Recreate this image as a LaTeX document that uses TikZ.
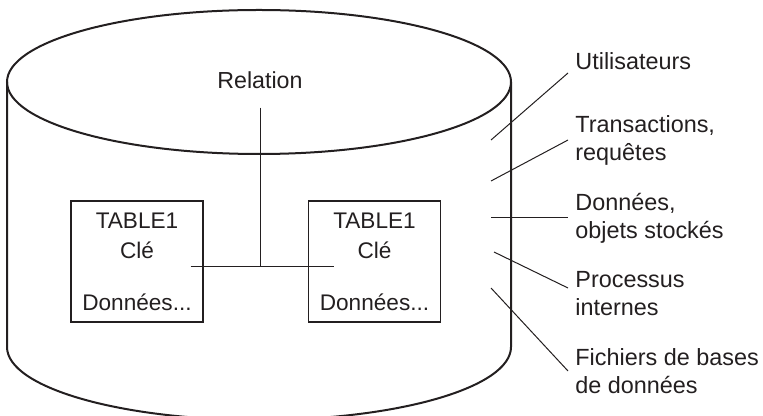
\documentclass[tikz,border=0pt]{standalone}
\usepackage{fontspec}
\setmainfont{Liberation Sans}
\definecolor{ink}{HTML}{231F20}

\begin{document}
\begin{tikzpicture}[x=0.5pt, y=-0.5pt, color=ink,
  lbl/.style={anchor=west, align=left, inner sep=3.5pt, font=\fontsize{11.7}{14}\selectfont},
  tablebox/.style={draw, line width=0.7pt, minimum width=66pt, minimum height=60.5pt,
    align=center, inner sep=0pt, font=\fontsize{11.3}{15}\selectfont},
  wire/.style={line width=0.5pt}]
  \useasboundingbox (0,0) rectangle (763,416);

  % the cylinder
  \draw[line width=1pt] (259,82) ellipse [x radius=252, y radius=72];
  \draw[line width=1pt] (7,82) -- (7,347)
  arc [start angle=180, end angle=0, x radius=252, y radius=73] -- (511,82);

  % two tables and the relation
  \node[font=\fontsize{11.6}{14}\selectfont] (rel) at (260,80) {Relation};
  \node[tablebox] (tabA) at (137,261.5) {TABLE1\\Clé\\[11pt]Données...};
  \node[tablebox] (tabB) at (374.5,261.5) {TABLE1\\Clé\\[11pt]Données...};
  \coordinate (join) at (260,266);
  \draw[wire] ([yshift=-6pt]rel.south) -- (join);
  \draw[wire] ([xshift=-6.5pt,yshift=-2.25pt]tabA.east)
  -- ([xshift=13pt,yshift=-2.25pt]tabB.west);

  % labels on the right
  \node[lbl] (users) at (568,61) {Utilisateurs};
  \node[lbl] (trans) at (568,140) {Transactions,\\requêtes};
  \node[lbl] (store) at (568,218) {Données,\\objets stockés};
  \node[lbl] (proc) at (568,294) {Processus\\internes};
  \node[lbl] (files) at (568,371) {Fichiers de bases\\de données};

  \coordinate (users0) at (491,140);
  \coordinate (trans0) at (491,181);
  \coordinate (store0) at (491,218);
  \coordinate (proc0) at (494,252);
  \coordinate (files0) at (491,288);
  \draw[wire] (users0) -- ([yshift=-6pt]users.west);
  \draw[wire] (trans0) -- (trans.west);
  \draw[wire] (store0) -- (store.west);
  \draw[wire] (proc0) -- ([yshift=3pt]proc.west);
  \draw[wire] (files0) -- (files.west);
\end{tikzpicture}
\end{document}
